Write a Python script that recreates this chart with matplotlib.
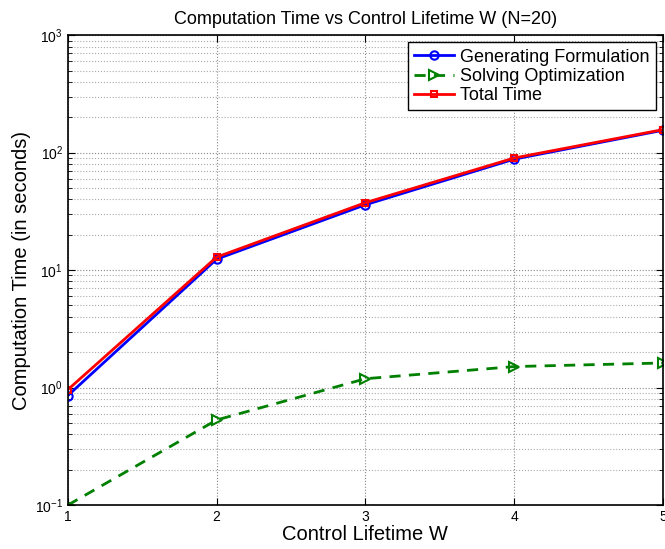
import matplotlib
matplotlib.use('Agg')
import matplotlib.pyplot as plt
from matplotlib.ticker import LogLocator, NullFormatter

plt.rcParams['font.family'] = ['Liberation Sans', 'DejaVu Sans']
plt.rcParams['mathtext.fontset'] = 'custom'
plt.rcParams['mathtext.rm'] = 'Liberation Sans'

lifetime = [1, 2, 3, 4, 5]
gen_time = [0.855, 12.4, 36.0, 88.0, 155.0]
solve_time = [0.10, 0.53, 1.19, 1.51, 1.62]
total_time = [0.96, 12.9, 37.5, 90.0, 157.0]

fig = plt.figure(figsize=(6.65, 5.49), dpi=100)
ax = fig.add_axes([0.102, 0.080, 0.895, 0.856])

ax.plot(lifetime, gen_time, color='blue', lw=2, marker='o', ms=6,
        mfc='none', mew=1.5, label='Generating Formulation')
ax.plot(lifetime, solve_time, color='green', lw=2, ls='--', marker='>', ms=7,
        mfc='none', mew=1.5, label='Solving Optimization', dashes=(4, 3))
ax.plot(lifetime, total_time, color='red', lw=2, marker='s', ms=5,
        mfc='none', mew=1.5, label='Total Time')

ax.set_yscale('log')
ax.set_xlim(1, 5)
ax.set_ylim(0.1, 1000)
ax.set_xticks(lifetime)
ax.yaxis.set_major_locator(LogLocator(base=10, numticks=10))
ax.yaxis.set_minor_locator(LogLocator(base=10, subs=range(2, 10), numticks=20))
ax.yaxis.set_minor_formatter(NullFormatter())

ax.grid(True, which='major', ls=':', color='#888888', lw=0.8)
ax.grid(True, which='minor', ls=':', color='#aaaaaa', lw=0.8)
ax.tick_params(which='both', direction='in', top=True, right=True, labelsize=10)
ax.tick_params(which='major', length=5)
ax.tick_params(which='minor', length=3)
for s in ax.spines.values():
    s.set_linewidth(1.2)

ax.set_title('Computation Time vs Control Lifetime W (N=20)', fontsize=13, pad=8)
ax.set_xlabel('Control Lifetime W', fontsize=14.5, labelpad=1)
ax.set_ylabel('Computation Time (in seconds)', fontsize=14.5, labelpad=3)

leg = ax.legend(loc='upper right', fontsize=13, fancybox=False, framealpha=1,
                edgecolor='black', borderaxespad=0.4, handlelength=2.2,
                handletextpad=0.33, labelspacing=0.12, borderpad=0.35)
leg.get_frame().set_linewidth(1.0)

fig.savefig('out.png', dpi=100)
